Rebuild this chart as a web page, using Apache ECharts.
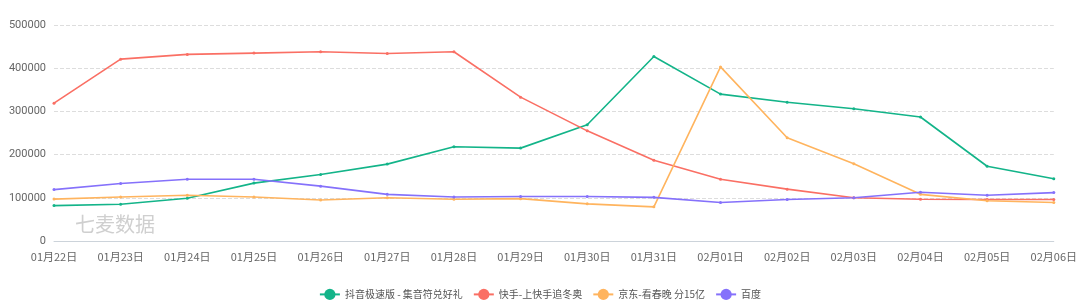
<!DOCTYPE html>
<html><head><meta charset="utf-8">
<script src="https://cdn.jsdelivr.net/npm/echarts@6/dist/echarts.min.js"></script>
<style>html,body{margin:0;padding:0;background:#fff}#c{width:1080px;height:308px}</style>
</head><body><div id="c"></div>
<script>
const categories = ['01月22日','01月23日','01月24日','01月25日','01月26日','01月27日','01月28日','01月29日','01月30日','01月31日','02月01日','02月02日','02月03日','02月04日','02月05日','02月06日'];
const douyin = [82000,85000,99000,134000,154000,178000,218000,215000,269000,427000,340000,321000,306000,287000,173000,144000];
const kuaishou = [319000,421000,432000,435000,438000,434000,438000,333000,255000,187000,143000,120000,100000,96500,96000,96000];
const jingdong = [97000,102000,106000,102000,95000,100000,96500,98000,86000,79000,403000,239000,179000,108000,93000,89000];
const baidu = [119000,133000,143000,143000,127000,108000,102000,103000,103000,101000,89000,96000,100000,113000,106000,112000];
const seriesNames = ['抖音极速版 - 集音符兑好礼','快手-上快手追冬奥','京东-看春晚 分15亿','百度'];
const colors = ['#13b489','#fa6f64','#ffb45e','#8571fb'];
const dataSets = [douyin, kuaishou, jingdong, baidu];

const chart = echarts.init(document.getElementById('c'));
chart.setOption({
  animation: false,
  color: colors,
  grid: {left: 54, right: 25, top: 25, bottom: 67},
  graphic: [{type:'text', left: 75, top: 214, style:{text:'七麦数据', fill:'#cfcfcf', font:'20px "Noto Sans CJK SC"'}}],
  legend: {
    bottom: 3, left: 'center', itemWidth: 20, itemHeight: 14, itemGap: 10,
    textStyle: {color: '#555', fontSize: 10, fontFamily: '"Noto Sans CJK SC"'}
  },
  xAxis: {
    type: 'category', data: categories, boundaryGap: false,
    axisLine: {lineStyle: {color: '#ccd3da'}},
    axisTick: {show: false},
    axisLabel: {color: '#666', fontSize: 11, margin: 10, fontFamily: '"Noto Sans CJK SC"', interval: 0}
  },
  yAxis: {
    type: 'value', min: 0, max: 500000, interval: 100000,
    axisLine: {show: false}, axisTick: {show: false},
    axisLabel: {color: '#666', fontSize: 11, margin: 8, fontFamily: 'Roboto', formatter: v => String(v)},
    splitLine: {lineStyle: {color: '#ddd', type: 'dashed'}}
  },
  series: dataSets.map((d, i) => ({
    name: seriesNames[i], type: 'line', data: d,
    symbol: 'circle', symbolSize: 3, showSymbol: true,
    lineStyle: {width: 1.6},
    itemStyle: {color: colors[i]}
  }))
});
</script></body></html>
